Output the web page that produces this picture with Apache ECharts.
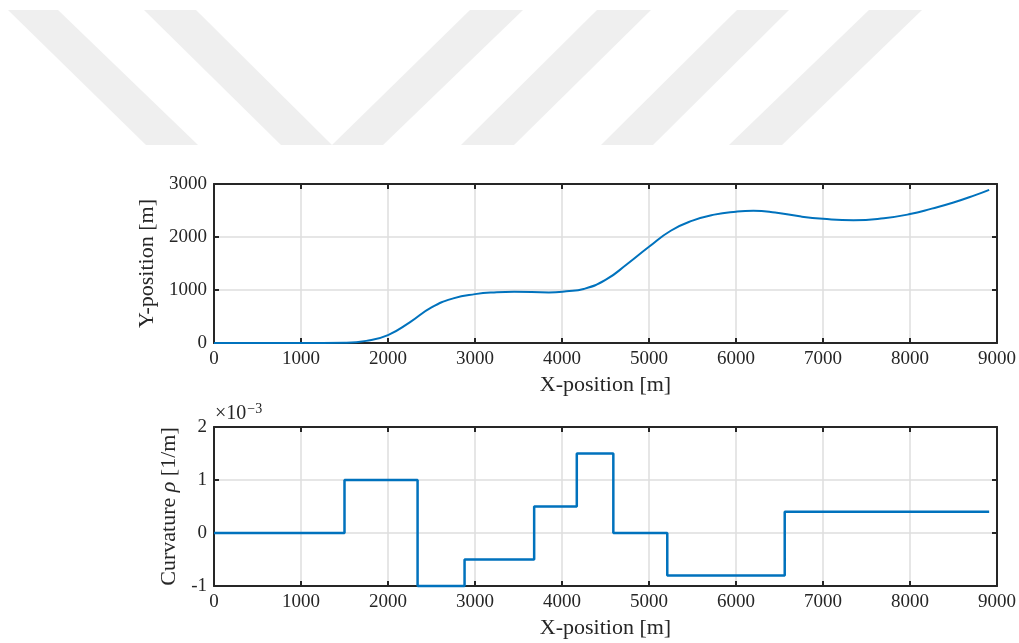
<!DOCTYPE html>
<html>
<head>
<meta charset="utf-8">
<script src="https://cdn.jsdelivr.net/npm/echarts@6/dist/echarts.min.js"></script>
<style>
html,body{margin:0;padding:0;background:#fff;}
#chart{width:1019px;height:643px;}
</style>
</head>
<body>
<div id="chart"></div>
<script>
// Trajectory (top plot)
const posX = [0, 500, 1000, 1250, 1500, 1750, 2000, 2250, 2500, 2750, 3000, 3250, 3450, 3850, 4050, 4250, 4500, 4750, 5000, 5250, 5500, 5750, 6000, 6200, 6450, 6750, 7000, 7350, 7700, 8000, 8250, 8500, 8750, 8910];
const posY = [0, 0, 0, 0, 3, 40, 150, 390, 672, 842, 922, 958, 968, 955, 975, 1020, 1190, 1490, 1815, 2118, 2308, 2422, 2478, 2495, 2462, 2385, 2344, 2318, 2355, 2432, 2535, 2650, 2790, 2890];
// Curvature (bottom plot), values in units of 1e-3 1/m, each held until next breakpoint
const curvX = [0, 1500, 2340, 2880, 3680, 4170, 4590, 5210, 6560, 8910];
const curvV = [0, 1, -1, -0.5, 0.5, 1.5, 0, -0.8, 0.4, 0.4];
// Tick settings
const xTicks = {min: 0, max: 9000, interval: 1000};
const yTopTicks = {min: 0, max: 3000, interval: 1000};
const yBotTicks = {min: -1, max: 2, interval: 1};

const BLUE = '#0072BD';
const DARK = '#262626';
const FONT = '"Liberation Serif", "DejaVu Serif", serif';
const LABEL = {fontFamily: FONT, fontSize: 19, color: DARK, formatter: (v) => String(v)};
const NAMEFS = 22;

function mainX(gridIndex) {
  return Object.assign({
    type: 'value', gridIndex, position: 'bottom',
    name: 'X-position [m]', nameLocation: 'middle', nameGap: 31,
    nameTextStyle: {fontFamily: FONT, fontSize: NAMEFS, color: DARK},
    axisLine: {show: true, onZero: false, lineStyle: {color: DARK, width: 2}},
    axisTick: {show: true, inside: true, length: 5, lineStyle: {color: DARK, width: 2}},
    axisLabel: Object.assign({margin: 7, showMinLabel: true, showMaxLabel: true, hideOverlap: false}, LABEL),
    splitLine: {show: true, lineStyle: {color: '#dedede', width: 1.5}}
  }, xTicks);
}
function topX(gridIndex) {
  return Object.assign({
    type: 'value', gridIndex, position: 'top',
    axisLine: {show: true, onZero: false, lineStyle: {color: DARK, width: 2}},
    axisTick: {show: true, inside: true, length: 5, lineStyle: {color: DARK, width: 2}},
    axisLabel: {show: false}, splitLine: {show: false}
  }, xTicks);
}
function leftY(gridIndex, ticks, name, gap, rich) {
  return Object.assign({
    type: 'value', gridIndex, position: 'left',
    name, nameLocation: 'middle', nameGap: gap,
    nameTextStyle: {fontFamily: FONT, fontSize: NAMEFS, color: DARK, rich: rich || {}},
    axisLine: {show: true, onZero: false, lineStyle: {color: DARK, width: 2}},
    axisTick: {show: true, inside: true, length: 5, lineStyle: {color: DARK, width: 2}},
    axisLabel: Object.assign({margin: 7, showMinLabel: true, showMaxLabel: true, hideOverlap: false}, LABEL),
    splitLine: {show: true, lineStyle: {color: '#dedede', width: 1.5}}
  }, ticks);
}
function rightY(gridIndex, ticks) {
  return Object.assign({
    type: 'value', gridIndex, position: 'right',
    axisLine: {show: true, onZero: false, lineStyle: {color: DARK, width: 2}},
    axisTick: {show: true, inside: true, length: 5, lineStyle: {color: DARK, width: 2}},
    axisLabel: {show: false}, splitLine: {show: false}
  }, ticks);
}

const stripe = (pts) => ({
  type: 'polygon', z: -10, silent: true,
  shape: {points: pts}, style: {fill: '#efefef'}
});

const chart = echarts.init(document.getElementById('chart'), null, {renderer: 'canvas'});
chart.setOption({
  animation: false,
  backgroundColor: '#ffffff',
  grid: [
    {left: 214, right: 21, top: 184, height: 159},
    {left: 214, right: 21, top: 427, height: 159}
  ],
  xAxis: [mainX(0), topX(0), mainX(1), topX(1)],
  yAxis: [
    leftY(0, yTopTicks, 'Y-position [m]', 50),
    rightY(0, yTopTicks),
    leftY(1, yBotTicks, 'Curvature {i|ρ} [1/m]', 25, {i: {fontFamily: FONT, fontSize: NAMEFS, fontStyle: 'italic', color: DARK}}),
    rightY(1, yBotTicks)
  ],
  graphic: [
    stripe([[8,10],[58,10],[198,145],[146,145]]),
    stripe([[144,10],[196,10],[332,145],[281,145]]),
    stripe([[332,145],[383,145],[523,10],[470,10]]),
    stripe([[461,145],[514,145],[651,10],[597,10]]),
    stripe([[601,145],[653,145],[789,10],[737,10]]),
    stripe([[729,145],[782,145],[922,10],[869,10]]),
    {
      type: 'text', left: 215, top: 402,
      style: {
        text: '×10{s|−3}',
        fontFamily: FONT, fontSize: 20, fill: DARK,
        rich: {s: {fontFamily: FONT, fontSize: 14, fill: DARK, verticalAlign: 'top', padding: [0,0,10,1]}}
      }
    }
  ],
  series: [
    {
      type: 'line', xAxisIndex: 0, yAxisIndex: 0,
      data: posX.map((x, i) => [x, posY[i]]),
      smooth: 0.5, showSymbol: false, clip: false,
      lineStyle: {color: BLUE, width: 2}
    },
    {
      type: 'line', xAxisIndex: 2, yAxisIndex: 2,
      data: curvX.map((x, i) => [x, curvV[i]]),
      step: 'end', showSymbol: false, clip: false,
      lineStyle: {color: BLUE, width: 2.5}
    }
  ]
});
</script>
</body>
</html>
